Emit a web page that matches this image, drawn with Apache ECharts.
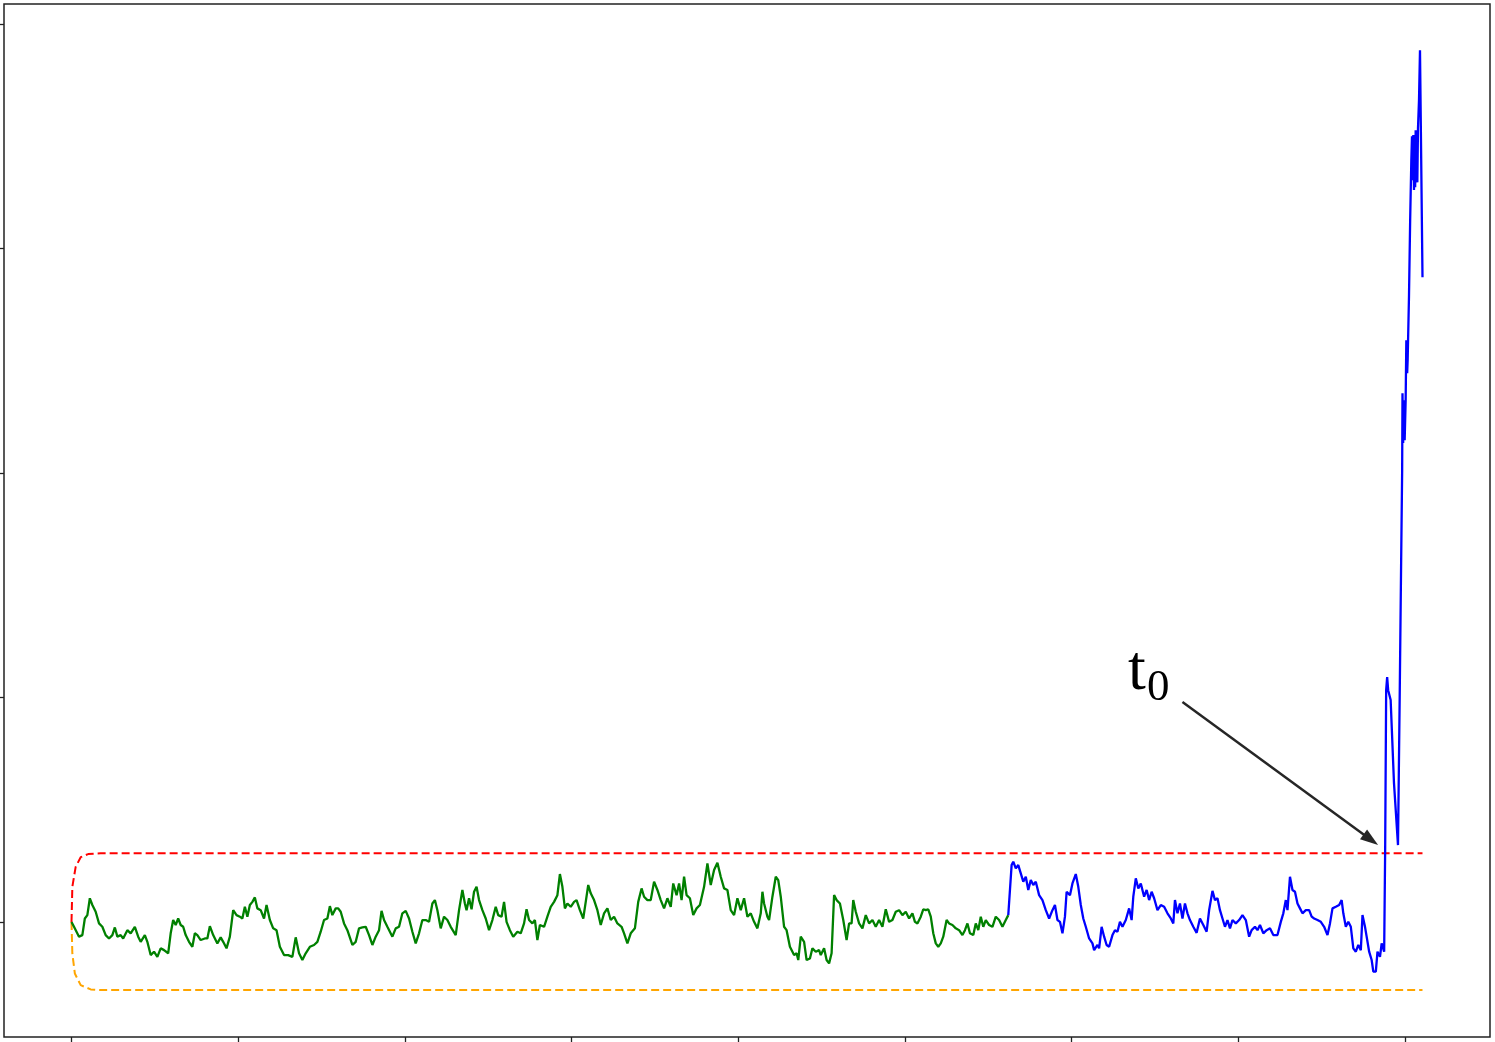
<!DOCTYPE html>
<html>
<head>
<meta charset="utf-8">
<script src="https://cdn.jsdelivr.net/npm/echarts@6/dist/echarts.min.js"></script>
<style>
  html, body { margin: 0; padding: 0; background: #fff; }
  #chart { width: 1495px; height: 1042px; }
</style>
</head>
<body>
<div id="chart"></div>
<script>
// tick positions (no labels in the original)
const xTicks = [0, 200, 400, 600, 800, 1000, 1200, 1400, 1600]
const yTicks = [1, 2, 3, 4, 5]

// thresholds: upper (red) and lower (orange) bands
const upperBand = [[0, 1.0], [1, 1.157], [5, 1.246], [11, 1.289], [20, 1.303], [35, 1.307], [1621, 1.307]]
const lowerBand = [[0, 1.0], [1, 0.86], [4, 0.771], [11, 0.719], [23, 0.700], [35, 0.697], [1621, 0.697]]

// history (green)
const history = [[0,1.000],[3,0.979],[9,0.935],[13,0.942],[16,1.016],[19,1.031],[22,1.106],[25,1.076],[29,1.046],[33,0.994],[37,0.979],[41,0.942],[45,0.927],[49,0.942],[52,0.976],[55,0.935],[59,0.942],[62,0.927],[67,0.964],[71,0.950],[76,0.979],[80,0.935],[83,0.912],[88,0.942],[91,0.912],[95,0.853],[99,0.868],[103,0.845],[107,0.883],[111,0.875],[116,0.861],[119,0.950],[122,1.009],[125,0.987],[128,1.016],[131,0.987],[134,0.979],[137,0.942],[141,0.912],[145,0.890],[148,0.950],[151,0.942],[155,0.920],[160,0.927],[163,0.927],[166,0.982],[170,0.942],[175,0.905],[179,0.932],[182,0.912],[186,0.883],[190,0.935],[194,1.053],[198,1.031],[202,1.024],[205,1.016],[208,1.068],[211,1.024],[214,1.076],[217,1.090],[220,1.110],[223,1.061],[227,1.053],[231,1.016],[234,1.076],[238,1.009],[242,0.972],[246,0.964],[250,0.890],[255,0.853],[260,0.853],[265,0.845],[269,0.932],[273,0.861],[277,0.831],[281,0.861],[286,0.890],[291,0.898],[295,0.912],[299,0.957],[303,1.009],[307,1.016],[310,1.071],[313,1.031],[317,1.061],[320,1.061],[323,1.046],[327,0.994],[331,0.964],[337,0.898],[341,0.912],[345,0.972],[349,0.976],[353,0.979],[357,0.942],[361,0.898],[365,0.935],[369,0.964],[372,1.050],[375,1.009],[379,0.979],[385,0.935],[389,0.972],[393,0.979],[397,1.039],[401,1.050],[405,1.016],[409,0.957],[413,0.905],[417,0.950],[421,1.009],[425,1.009],[429,1.001],[433,1.083],[436,1.098],[439,1.053],[443,0.972],[447,1.024],[451,1.009],[455,0.979],[461,0.942],[465,1.053],[469,1.143],[472,1.083],[474,1.053],[477,1.106],[480,1.057],[483,1.135],[486,1.157],[489,1.098],[493,1.053],[497,1.016],[501,0.964],[505,1.009],[509,1.068],[512,1.031],[516,1.024],[519,1.090],[522,1.001],[526,0.964],[530,0.935],[535,0.957],[539,0.950],[543,0.994],[546,1.057],[549,1.009],[553,0.994],[556,1.009],[559,0.920],[562,0.987],[567,0.979],[571,1.024],[575,1.068],[579,1.090],[583,1.120],[586,1.214],[589,1.157],[592,1.061],[595,1.083],[599,1.068],[603,1.090],[606,1.098],[610,1.053],[614,1.016],[617,1.090],[620,1.165],[623,1.128],[627,1.098],[631,1.053],[635,0.987],[639,1.039],[643,1.061],[647,1.009],[651,1.024],[655,0.994],[660,0.979],[663,0.950],[667,0.905],[671,0.950],[676,0.972],[680,1.090],[684,1.150],[687,1.113],[691,1.098],[695,1.098],[699,1.180],[703,1.143],[707,1.098],[711,1.061],[715,1.106],[719,1.068],[722,1.172],[726,1.120],[729,1.172],[732,1.098],[735,1.202],[738,1.120],[742,1.106],[746,1.031],[750,1.061],[754,1.076],[759,1.157],[763,1.261],[767,1.165],[771,1.232],[775,1.264],[779,1.202],[783,1.150],[787,1.143],[791,1.053],[795,1.031],[799,1.106],[803,1.053],[807,1.106],[811,1.024],[815,1.039],[819,1.001],[823,0.972],[827,1.039],[829,1.135],[831,1.083],[835,1.024],[837,1.009],[841,1.113],[845,1.202],[848,1.187],[851,1.113],[855,0.979],[858,0.964],[862,0.890],[867,0.853],[870,0.861],[872,0.831],[875,0.935],[879,0.912],[882,0.831],[886,0.838],[889,0.883],[893,0.868],[897,0.875],[899,0.853],[903,0.883],[906,0.831],[909,0.816],[912,0.861],[915,1.120],[918,1.098],[922,1.083],[926,1.009],[930,0.920],[933,0.994],[936,0.994],[938,1.098],[941,1.046],[945,0.994],[949,0.972],[953,1.031],[957,0.994],[961,1.009],[965,0.979],[969,1.009],[973,0.979],[977,1.057],[981,1.001],[985,1.009],[989,1.046],[993,1.053],[997,1.031],[1001,1.046],[1005,1.016],[1009,1.039],[1012,1.001],[1015,0.994],[1019,1.024],[1022,1.057],[1025,1.053],[1028,1.057],[1031,1.024],[1034,0.950],[1037,0.905],[1040,0.890],[1043,0.905],[1046,0.935],[1050,1.009],[1053,0.994],[1057,0.987],[1061,0.972],[1065,0.964],[1069,0.942],[1072,0.964],[1075,0.994],[1078,0.950],[1082,0.942],[1085,0.994],[1088,0.964],[1091,1.024],[1094,0.979],[1097,1.009],[1101,0.987],[1105,0.979],[1109,1.024],[1113,1.009],[1117,0.979],[1121,1.009],[1124,1.031]]

// live part (blue)
const live = [[1124,1.031],[1126,1.039],[1128,1.254],[1130,1.269],[1133,1.239],[1136,1.254],[1139,1.217],[1142,1.180],[1145,1.202],[1148,1.143],[1151,1.187],[1154,1.165],[1157,1.180],[1161,1.120],[1165,1.098],[1169,1.053],[1173,1.016],[1177,1.053],[1180,1.076],[1183,1.009],[1186,1.001],[1189,0.950],[1192,1.024],[1194,1.135],[1198,1.120],[1201,1.172],[1205,1.214],[1208,1.157],[1211,1.076],[1214,1.016],[1217,0.979],[1221,0.927],[1225,0.905],[1227,0.875],[1231,0.898],[1233,0.883],[1236,0.979],[1239,0.935],[1242,0.898],[1245,0.890],[1249,0.942],[1252,0.964],[1255,0.957],[1258,1.001],[1261,0.979],[1265,1.009],[1269,1.061],[1272,1.009],[1274,1.113],[1277,1.195],[1280,1.150],[1283,1.172],[1287,1.113],[1290,1.143],[1293,1.098],[1296,1.135],[1299,1.106],[1303,1.053],[1307,1.076],[1311,1.068],[1315,1.039],[1319,1.016],[1322,0.994],[1324,1.098],[1327,1.039],[1330,1.083],[1333,1.016],[1336,1.083],[1339,1.039],[1342,1.009],[1346,0.979],[1350,0.952],[1354,1.016],[1358,0.987],[1362,0.957],[1365,1.053],[1369,1.139],[1372,1.098],[1375,1.106],[1378,1.053],[1381,1.016],[1384,0.979],[1387,1.009],[1390,0.972],[1393,1.009],[1397,0.994],[1401,1.009],[1405,1.031],[1409,1.009],[1413,0.935],[1416,0.964],[1420,0.979],[1423,0.964],[1426,0.987],[1430,0.950],[1434,0.964],[1438,0.972],[1442,0.942],[1447,0.942],[1451,1.001],[1454,1.039],[1457,1.098],[1459,1.053],[1462,1.202],[1465,1.143],[1468,1.135],[1471,1.083],[1474,1.061],[1477,1.039],[1481,1.053],[1485,1.053],[1488,1.024],[1491,1.016],[1495,1.009],[1499,1.001],[1503,0.979],[1507,0.942],[1510,0.994],[1513,1.061],[1517,1.068],[1521,1.076],[1524,1.098],[1526,1.039],[1529,0.979],[1532,1.001],[1535,0.979],[1538,0.883],[1541,0.868],[1544,0.898],[1547,0.875],[1549,1.031],[1552,0.979],[1554,0.935],[1557,0.868],[1560,0.831],[1562,0.779],[1565,0.779],[1567,0.868],[1570,0.845],[1572,0.905],[1575,0.868],[1576.2,1.321],[1577.4,2.033],[1578.6,2.091],[1579.8,2.033],[1581,2.025],[1582.8,1.989],[1586.8,1.619],[1591.6,1.343],[1593.6,1.989],[1595.4,2.612],[1596.6,3.013],[1597,3.356],[1597.8,3.134],[1598.4,3.325],[1599.6,3.147],[1600.8,3.325],[1601.6,3.592],[1602.6,3.445],[1603.2,3.503],[1604.8,3.788],[1606.2,4.127],[1607.6,4.394],[1608.4,4.501],[1609.2,4.305],[1610,4.506],[1610.8,4.261],[1611.6,4.483],[1612.2,4.274],[1612.8,4.528],[1614,4.305],[1614.8,4.296],[1615.6,4.537],[1616.8,4.661],[1618,4.884],[1619.4,4.884],[1621,3.873]]

// annotation arrow (data coords)
const arrowFrom = [1333, 1.98]
const arrowTo = [1559, 1.367]

let myChart = echarts.init(document.getElementById('chart'))
let tickStyle = { color: '#222', width: 1.3 }
let serif = '"Liberation Serif", "Times New Roman", serif'
let option = {
  animation: false,
  grid: {
    left: 4, top: 4, right: 5, bottom: 5,
    show: true,
    borderColor: '#222',
    borderWidth: 1.5
  },
  xAxis: {
    type: 'value',
    min: -81,
    max: 1702,
    axisLine: { show: false, onZero: false },
    splitLine: { show: false },
    axisLabel: { show: false },
    axisTick: { show: true, length: 5, customValues: xTicks, lineStyle: tickStyle }
  },
  yAxis: {
    type: 'value',
    min: 0.488,
    max: 5.09,
    axisLine: { show: false, onZero: false },
    splitLine: { show: false },
    axisLabel: { show: false },
    axisTick: { show: true, length: 4, customValues: yTicks, lineStyle: tickStyle }
  },
  graphic: [
    { type: 'text', x: 1128, y: 704, style: { text: 't', font: '64px ' + serif, fill: '#000', verticalAlign: 'bottom' } },
    { type: 'text', x: 1147, y: 711, style: { text: '0', font: '45px ' + serif, fill: '#000', verticalAlign: 'bottom' } }
  ],
  series: [
    {
      type: 'line',
      data: upperBand,
      showSymbol: false,
      lineStyle: { color: '#ff0000', width: 2, type: [8, 4] }
    },
    {
      type: 'line',
      data: lowerBand,
      showSymbol: false,
      lineStyle: { color: '#ffa500', width: 2, type: [8, 4] }
    },
    {
      type: 'line',
      data: history,
      showSymbol: false,
      lineStyle: { color: '#008000', width: 2.3 }
    },
    {
      type: 'line',
      data: live,
      showSymbol: false,
      lineStyle: { color: '#0000ff', width: 2.3 },
      markLine: {
        silent: true,
        symbol: ['none', 'triangle'],
        symbolSize: [12, 18],
        label: { show: false },
        lineStyle: { color: '#262626', width: 2.5, type: 'solid' },
        data: [[{ coord: arrowFrom }, { coord: arrowTo }]]
      }
    }
  ]
}
myChart.setOption(option)
</script>
</body>
</html>
